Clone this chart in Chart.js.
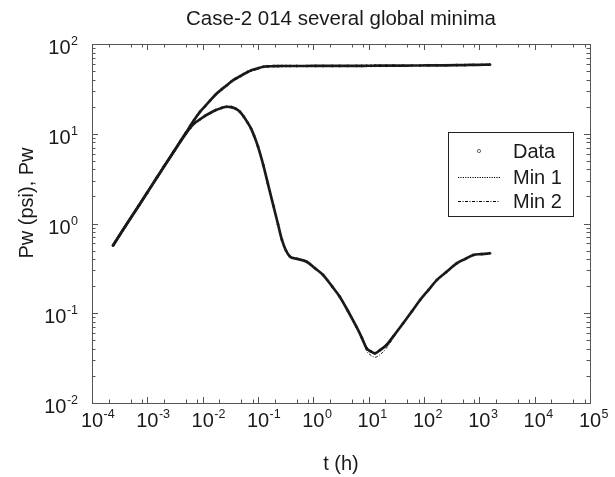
<!DOCTYPE html>
<html><head><meta charset="utf-8">
<script src="https://cdn.jsdelivr.net/npm/chart.js@4/dist/chart.umd.min.js"></script>
<style>html,body{margin:0;padding:0;background:#fff;}#wrap{width:615px;height:477px;}</style>
</head><body><div id="wrap"><canvas id="c" width="615" height="477"></canvas></div>
<script>
// ---- data ----
const timeH = [2.4e-4,4e-4,7e-4,1e-3,1.5e-3,2e-3,3e-3,4e-3,5e-3,6e-3,7e-3,9e-3,0.011,0.0136,0.017,0.022,0.027,0.033,0.04,0.047,0.055,0.065,0.075,0.085,0.1,0.125,0.15,0.19,0.23,0.27,0.32,0.38,0.5,0.76,1.1,1.5,2.2,3,4.2,6,7.5,9.2,11,13,16,21,28,42,60,85,120,170,250,390,550,780,1100,1560];
const pwData = [0.57,0.93,1.58,2.22,3.27,4.31,6.34,8.34,10.3,12.3,14.2,17.6,20.2,23.4,27.2,31.2,34.5,38.2,41.3,43.6,46.1,48.8,50.8,52.0,53.6,55.8,56.3,56.6,56.8,56.9,56.9,56.9,56.9,56.9,57,57,57,57,57,57.1,57.1,57.2,57.2,57.3,57.3,57.4,57.5,57.5,57.6,57.6,57.7,57.8,57.9,58.1,58.3,58.5,58.7,58.9];
const dpwData = [0.57,0.93,1.58,2.22,3.27,4.31,6.3,8.25,10.1,11.7,13.0,14.5,15.8,17.0,18.3,19.4,20.0,19.8,18.9,17.6,15.6,13.3,11.4,9.5,7.2,4.45,2.82,1.57,0.98,0.66,0.5,0.427,0.405,0.375,0.313,0.267,0.198,0.153,0.1067,0.0708,0.0536,0.0407,0.0375,0.0358,0.0388,0.0443,0.0555,0.0773,0.1045,0.1406,0.1815,0.234,0.286,0.36,0.401,0.446,0.456,0.466];
const pwMin1 = pwData.slice();
const dpwMin1 = dpwData.slice();
const pwMin2 = pwData.slice();
const dpwMin2 = [0.57,0.93,1.58,2.22,3.27,4.31,6.3,8.25,10.1,11.7,13.0,14.5,15.8,17.0,18.3,19.4,20.0,19.8,18.9,17.6,15.6,13.3,11.4,9.5,7.2,4.45,2.82,1.57,0.98,0.66,0.5,0.427,0.405,0.375,0.313,0.267,0.198,0.153,0.1067,0.0705,0.052,0.038,0.034,0.0323,0.0345,0.041,0.053,0.0768,0.1045,0.1406,0.1815,0.234,0.286,0.36,0.401,0.446,0.456,0.466];
const xTickExponents = [-4,-3,-2,-1,0,1,2,3,4,5];
const yTickExponents = [-2,-1,0,1,2];
const xMinorMultipliers = [2,5,8];
const yMinorMultipliers = [2,3,4,5,6,7,8,9];
const legendLabels = ['Data','Min 1','Min 2'];
const titleText = 'Case-2 014 several global minima';
const xTitleText = 't (h)';
const yTitleText = 'Pw (psi), Pw';

const pts = (ys) => timeH.map((t, i) => ({x: t, y: ys[i]}));
const FONT = '"Liberation Sans", Arial, Helvetica, sans-serif';
const AXIS = '#555';

const dataStyle = {borderColor: '#1e1e1e', backgroundColor: 'rgba(0,0,0,0)', borderWidth: 2.7,
  pointRadius: 1.1, pointBorderWidth: 0.6, pointBorderColor: '#1e1e1e', pointBackgroundColor: '#1e1e1e',
  cubicInterpolationMode: 'monotone', order: 3};
const min1Style = {borderColor: '#000', borderWidth: 1, borderDash: [1.2, 1.2], pointRadius: 0,
  cubicInterpolationMode: 'monotone', order: 2};
const min2Style = {borderColor: '#222', borderWidth: 1, borderDash: [3, 1.5, 1, 1.5], pointRadius: 0,
  cubicInterpolationMode: 'monotone', order: 1};

const decor = {
  id: 'decor',
  afterDraw(chart) {
    const ctx = chart.ctx, a = chart.chartArea, xs = chart.scales.x, ys = chart.scales.y;
    ctx.save();
    ctx.strokeStyle = AXIS; ctx.lineWidth = 1;
    ctx.strokeRect(Math.round(a.left) + 0.5, Math.round(a.top) + 0.5, Math.round(a.right - a.left), Math.round(a.bottom - a.top));
    ctx.beginPath();
    const vt = (v, len) => { const px = Math.round(xs.getPixelForValue(v)) + 0.5;
      ctx.moveTo(px, a.bottom); ctx.lineTo(px, a.bottom - len);
      ctx.moveTo(px, a.top); ctx.lineTo(px, a.top + len); };
    const ht = (v, len) => { const py = Math.round(ys.getPixelForValue(v)) + 0.5;
      ctx.moveTo(a.left, py); ctx.lineTo(a.left + len, py);
      ctx.moveTo(a.right, py); ctx.lineTo(a.right - len, py); };
    xTickExponents.forEach((e, i) => { vt(Math.pow(10, e), 6);
      if (i < xTickExponents.length - 1) xMinorMultipliers.forEach(m => vt(m * Math.pow(10, e), 3.5)); });
    yTickExponents.forEach((e, i) => { ht(Math.pow(10, e), 6);
      if (i < yTickExponents.length - 1) yMinorMultipliers.forEach(m => ht(m * Math.pow(10, e), 3.5)); });
    ctx.stroke();
    ctx.fillStyle = '#1a1a1a';
    const big = '20px ' + FONT, small = '12.5px ' + FONT;
    ctx.textBaseline = 'alphabetic';
    xTickExponents.forEach(e => {
      const px = xs.getPixelForValue(Math.pow(10, e));
      ctx.font = big; const w = ctx.measureText('10').width;
      ctx.textAlign = 'center'; ctx.fillText('10', px, 427);
      ctx.font = small; ctx.textAlign = 'left'; ctx.fillText(String(e), px + w / 2 + 0.5, 418);
    });
    yTickExponents.forEach(e => {
      const py = ys.getPixelForValue(Math.pow(10, e));
      ctx.font = small; const ew = ctx.measureText(String(e)).width;
      ctx.textAlign = 'right'; ctx.fillText(String(e), 78, py + 1);
      ctx.font = big; ctx.fillText('10', 78 - ew - 0.5, py + 10);
    });
    ctx.textAlign = 'center';
    ctx.font = '20.5px ' + FONT;
    ctx.fillText(titleText, (a.left + a.right) / 2, 25);
    ctx.font = big;
    ctx.fillText(xTitleText, (a.left + a.right) / 2, 470);
    ctx.save(); ctx.translate(27, 203); ctx.rotate(-Math.PI / 2);
    ctx.textBaseline = 'middle'; ctx.fillText(yTitleText, 0, 0); ctx.restore();
    ctx.fillStyle = '#fff'; ctx.fillRect(448.5, 132.5, 125, 84);
    ctx.strokeStyle = '#222'; ctx.lineWidth = 1; ctx.strokeRect(448.5, 132.5, 125, 84);
    const rows = [151, 177, 201];
    ctx.fillStyle = '#1a1a1a'; ctx.font = big; ctx.textAlign = 'left'; ctx.textBaseline = 'middle';
    legendLabels.forEach((lab, i) => ctx.fillText(lab, 513, rows[i] + 1));
    ctx.beginPath(); ctx.arc(479, rows[0], 1.6, 0, Math.PI * 2); ctx.strokeStyle = '#555'; ctx.lineWidth = 0.9; ctx.stroke();
    ctx.strokeStyle = '#000'; ctx.lineWidth = 1;
    ctx.setLineDash(min1Style.borderDash); ctx.beginPath(); ctx.moveTo(458, rows[1] + 0.5); ctx.lineTo(500, rows[1] + 0.5); ctx.stroke();
    ctx.setLineDash(min2Style.borderDash); ctx.beginPath(); ctx.moveTo(458, rows[2] + 0.5); ctx.lineTo(500, rows[2] + 0.5); ctx.stroke();
    ctx.restore();
  }
};

new Chart(document.getElementById('c'), {
  type: 'line',
  data: {datasets: [
    Object.assign({label: 'Data', data: pts(pwData)}, dataStyle),
    Object.assign({label: 'Data', data: pts(dpwData)}, dataStyle),
    Object.assign({label: 'Min 1', data: pts(pwMin1)}, min1Style),
    Object.assign({label: 'Min 1', data: pts(dpwMin1)}, min1Style),
    Object.assign({label: 'Min 2', data: pts(pwMin2)}, min2Style),
    Object.assign({label: 'Min 2', data: pts(dpwMin2)}, min2Style)
  ]},
  options: {
    responsive: false, animation: false, devicePixelRatio: 1,
    layout: {padding: {left: 92, right: 25, top: 44, bottom: 74}},
    scales: {
      x: {type: 'logarithmic', min: 1e-4, max: 1e5, display: false},
      y: {type: 'logarithmic', min: 1e-2, max: 1e2, display: false}
    },
    plugins: {legend: {display: false}, tooltip: {enabled: false}, title: {display: false}}
  },
  plugins: [decor]
});
</script></body></html>
